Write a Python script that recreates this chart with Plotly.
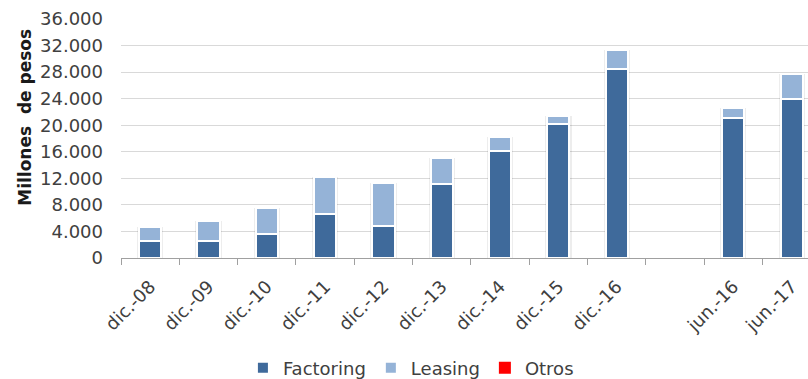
import plotly.graph_objects as go

# Periods on the x axis (one empty slot separates the year-end and mid-year series)
periodos = ["dic.-08", "dic.-09", "dic.-10", "dic.-11", "dic.-12", "dic.-13",
            "dic.-14", "dic.-15", "dic.-16", " ", "jun.-16", "jun.-17"]

# Amounts in millions of pesos
factoring = [2500, 2500, 3600, 6600, 4800, 11200, 16100, 20200, 28400, None, 21100, 23900]
leasing = [2200, 3000, 3900, 5600, 6500, 3800, 2100, 1200, 3000, None, 1500, 3800]
otros = [0, 0, 0, 0, 0, 0, 0, 0, 0, None, 0, 0]

y_ticks = [0, 4000, 8000, 12000, 16000, 20000, 24000, 28000, 32000, 36000]
y_labels = ["0", "4.000", "8.000", "12.000", "16.000", "20.000",
            "24.000", "28.000", "32.000", "36.000"]

# Stack heights, used for the soft shadow drawn behind each column
totales = [None if f is None else f + l + o for f, l, o in zip(factoring, leasing, otros)]

FONT = "DejaVu Sans"
TXT = "#404040"
BAR_W = 0.38
X_RANGE = [-0.5, 11.28]
Y_RANGE = [0, 36000]

fig = go.Figure()
# shadow halo on the base axes (drawn underneath)
fig.add_trace(go.Bar(x=periodos, y=totales, width=BAR_W + 0.07, showlegend=False,
                     hoverinfo="skip", xaxis="x", yaxis="y",
                     marker=dict(color="rgba(0,0,0,0.07)", line=dict(width=0))))
fig.add_trace(go.Bar(name="Factoring", x=periodos, y=factoring, width=BAR_W,
                     xaxis="x2", yaxis="y2",
                     marker=dict(color="#3F6A9B", line=dict(color="white", width=2))))
fig.add_trace(go.Bar(name="Leasing", x=periodos, y=leasing, width=BAR_W,
                     xaxis="x2", yaxis="y2",
                     marker=dict(color="#95B3D7", line=dict(color="white", width=2))))
fig.add_trace(go.Bar(name="Otros", x=periodos, y=otros, width=BAR_W,
                     xaxis="x2", yaxis="y2",
                     marker=dict(color="#FF0000", line=dict(width=0))))

fig.update_layout(
    width=808, height=379,
    margin=dict(l=121, r=0, t=19, b=121),
    barmode="stack",
    plot_bgcolor="white", paper_bgcolor="white",
    font=dict(family=FONT, size=18, color=TXT),
    legend=dict(orientation="h", x=0.422, xanchor="center",
                yref="container", y=0.029, yanchor="middle",
                traceorder="normal",
                font=dict(family=FONT, size=18, color=TXT), itemwidth=30),
    xaxis=dict(type="category", categoryorder="array", categoryarray=periodos,
               range=X_RANGE, tickangle=-45, tickson="boundaries",
               ticks="outside", ticklen=6, tickcolor="#a0a0a0", ticklabelstandoff=10,
               showline=True, linecolor="#a0a0a0", linewidth=1, automargin=False,
               showgrid=False, tickfont=dict(family=FONT, size=18, color=TXT)),
    yaxis=dict(range=Y_RANGE, tickvals=y_ticks, ticktext=y_labels, automargin=False,
               showgrid=True, gridcolor="#d9d9d9", gridwidth=1,
               zeroline=False, showline=False, ticks="", ticklabelstandoff=17,
               tickfont=dict(family=FONT, size=18, color=TXT)),
    xaxis2=dict(type="category", categoryorder="array", categoryarray=periodos,
                range=X_RANGE, overlaying="x", visible=False),
    yaxis2=dict(range=Y_RANGE, overlaying="y", visible=False),
    annotations=[dict(text="<b>Millones  de pesos</b>", textangle=-90,
                      xref="paper", yref="paper", x=-0.139, y=0.589,
                      xanchor="center", yanchor="middle", showarrow=False,
                      font=dict(family=FONT, size=17, color="#1a1a1a"))],
)

fig.write_html("out.html")
